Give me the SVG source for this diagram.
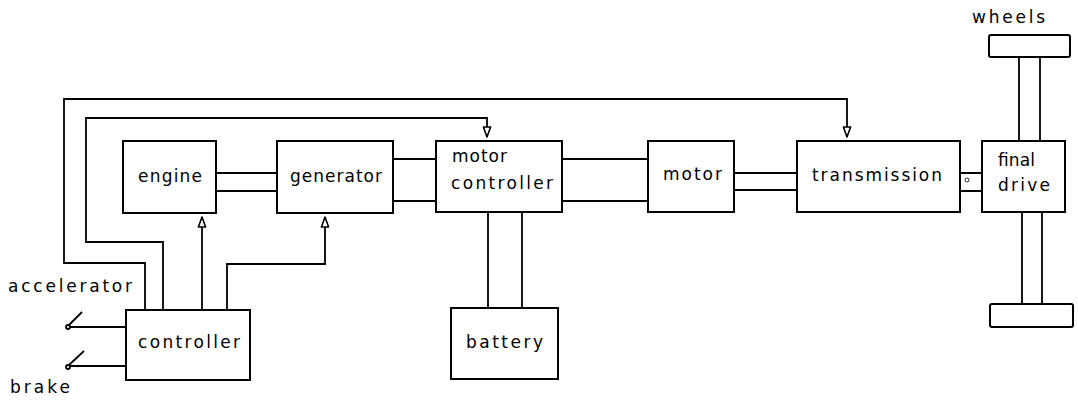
<svg xmlns="http://www.w3.org/2000/svg" width="1078" height="401" viewBox="0 0 1078 401">
<style>
.box{fill:none;stroke:#000;stroke-width:2}
.ln{fill:none;stroke:#000;stroke-width:1.8}
.t{font-family:"DejaVu Sans",sans-serif;font-size:17px;fill:#000}
</style>
<defs>
<marker id="arr" markerUnits="userSpaceOnUse" markerWidth="16" markerHeight="12" viewBox="-13 -6 16 12" refX="0" refY="0" orient="auto" overflow="visible">
<path d="M0,0 L-10,-3.6 L-10,3.6 Z" fill="#fff" stroke="#000" stroke-width="1.6" stroke-linejoin="round"/>
</marker>
</defs>
<rect width="1078" height="401" fill="#fff"/>
<g id="connectors">
<path class="ln" d="M145,310 V263 H64 V99 H847 V137" marker-end="url(#arr)"/>
<path class="ln" d="M163,310 V242 H86 V118 H487 V137" marker-end="url(#arr)"/>
<path class="ln" d="M202,310 V217" marker-end="url(#arr)"/>
<path class="ln" d="M227,310 V264 H325 V217" marker-end="url(#arr)"/>
<path class="ln" d="M216,173 H277 M216,191 H277"/>
<path class="ln" d="M393,159 H436 M393,201 H436"/>
<path class="ln" d="M562,159 H648 M562,201 H648"/>
<path class="ln" d="M734,173 H797 M734,190 H797"/>
<path class="ln" d="M960,173 H982 M960,191 H982"/>
<circle cx="967" cy="180" r="2" fill="none" stroke="#000" stroke-width="0.8"/>
<path class="ln" d="M488,212 V308 M522,212 V308"/>
<path class="ln" d="M1019,57 V141 M1040,57 V141"/>
<path class="ln" d="M1022,212 V304 M1042,212 V304"/>
<circle cx="68" cy="327" r="2" class="ln" stroke-width="1.4"/>
<path class="ln" d="M69,325 L82,312 M70,327 H126"/>
<circle cx="68" cy="367" r="2" class="ln" stroke-width="1.4"/>
<path class="ln" d="M69,365 L84,351 M70,366 H126"/>
</g>
<g id="engine"><rect class="box" x="123" y="141" width="93" height="72"/><text class="t" x="138" y="182" textLength="64" lengthAdjust="spacing">engine</text></g>
<g id="generator"><rect class="box" x="277" y="141" width="116" height="72"/><text class="t" x="290" y="182" textLength="92" lengthAdjust="spacing">generator</text></g>
<g id="motor-controller"><rect class="box" x="436" y="141" width="126" height="71"/><text class="t" x="452" y="162" textLength="55" lengthAdjust="spacing">motor</text><text class="t" x="451" y="189" textLength="102" lengthAdjust="spacing">controller</text></g>
<g id="motor"><rect class="box" x="648" y="141" width="86" height="71"/><text class="t" x="663" y="180" textLength="59" lengthAdjust="spacing">motor</text></g>
<g id="transmission"><rect class="box" x="797" y="141" width="163" height="71"/><text class="t" x="812" y="181" textLength="130" lengthAdjust="spacing">transmission</text></g>
<g id="final-drive"><rect class="box" x="982" y="141" width="83" height="71"/><text class="t" x="998" y="166" textLength="37" lengthAdjust="spacing">final</text><text class="t" x="998" y="191" textLength="52" lengthAdjust="spacing">drive</text></g>
<g id="wheels"><rect class="box" x="989" y="35" width="81" height="22" rx="2"/><rect class="box" x="990" y="304" width="83" height="23" rx="2"/><text class="t" x="972" y="23" textLength="73" lengthAdjust="spacing">wheels</text></g>
<g id="controller"><rect class="box" x="126" y="310" width="124" height="70"/><text class="t" x="138" y="348" textLength="102" lengthAdjust="spacing">controller</text></g>
<g id="battery"><rect class="box" x="451" y="308" width="107" height="71"/><text class="t" x="466" y="348" textLength="77" lengthAdjust="spacing">battery</text></g>
<g id="accelerator"><text class="t" x="8" y="292" textLength="124" lengthAdjust="spacing">accelerator</text></g>
<g id="brake"><text class="t" x="10" y="393" textLength="60" lengthAdjust="spacing">brake</text></g>
</svg>
